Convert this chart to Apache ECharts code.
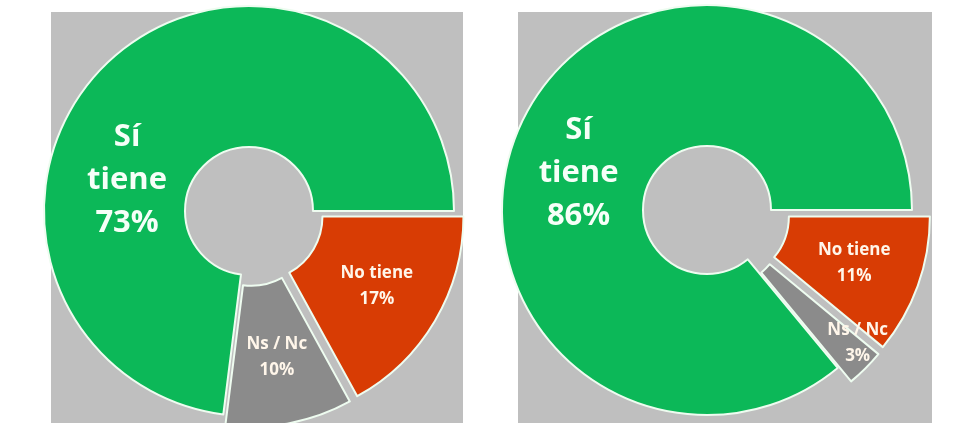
<!DOCTYPE html>
<html>
<head>
<meta charset="utf-8">
<script src="https://cdn.jsdelivr.net/npm/echarts@6/dist/echarts.min.js"></script>
<style>
html,body{margin:0;padding:0;background:#ffffff;}
#chart{width:961px;height:423px;}
</style>
</head>
<body>
<div id="chart"></div>
<script>
// Data
const categories = ['No tiene', 'Ns / Nc', 'Sí tiene'];
const leftValues = [17, 10, 73];
const rightValues = [11, 3, 86];
const explodedCategories = ['No tiene', 'Ns / Nc'];

const sliceColors = ['#d83c04', '#8b8b8b', '#0cb858'];
const panelColor = '#bfbfbf';

function buildData(values) {
  return categories.map((name, i) => ({
    name: name,
    value: values[i],
    selected: explodedCategories.indexOf(name) >= 0,
    label: i === 2 ? {
      fontSize: 31, fontWeight: 'bold', lineHeight: 43, color: '#f6fff8'
    } : {
      fontSize: 17, fontWeight: 'bold', lineHeight: 26, color: '#fff6ea'
    }
  }));
}

function labelFormatter(p) {
  if (p.dataIndex === 2) {
    return p.name.split(' ').join('\n') + '\n' + p.value + '%';
  }
  return p.name + '\n' + p.value + '%';
}

function makeSeries(values, center, offset, labelShift) {
  return {
    type: 'pie',
    center: center,
    radius: [64, 205],
    startAngle: 0,
    clockwise: true,
    selectedMode: 'multiple',
    selectedOffset: offset,
    silent: true,
    animation: false,
    avoidLabelOverlap: false,
    color: sliceColors,
    itemStyle: { borderColor: '#eefcf0', borderWidth: 2 },
    select: { itemStyle: { borderColor: '#eefcf0', borderWidth: 2 } },
    emphasis: { disabled: true },
    label: {
      show: true,
      position: 'inside',
      formatter: labelFormatter,
      fontFamily: 'Open Sans',
      align: 'center'
    },
    labelLine: { show: false },
    labelLayout: function (params) {
      const s = labelShift[params.dataIndex];
      return s ? { dx: s[0], dy: s[1] } : {};
    },
    data: buildData(values)
  };
}

const chart = echarts.init(document.getElementById('chart'), null, { renderer: 'canvas' });
chart.setOption({
  backgroundColor: '#ffffff',
  animation: false,
  graphic: [
    { type: 'rect', z: -10, shape: { x: 51, y: 12, width: 412, height: 420 }, style: { fill: panelColor } },
    { type: 'rect', z: -10, shape: { x: 518, y: 12, width: 414, height: 420 }, style: { fill: panelColor } }
  ],
  series: [
    makeSeries(leftValues, [249, 211], 11, { 2: [-31, 72] }),
    makeSeries(rightValues, [707, 210], 19, { 1: [40, 22], 2: [-4, 22] })
  ]
});
</script>
</body>
</html>
